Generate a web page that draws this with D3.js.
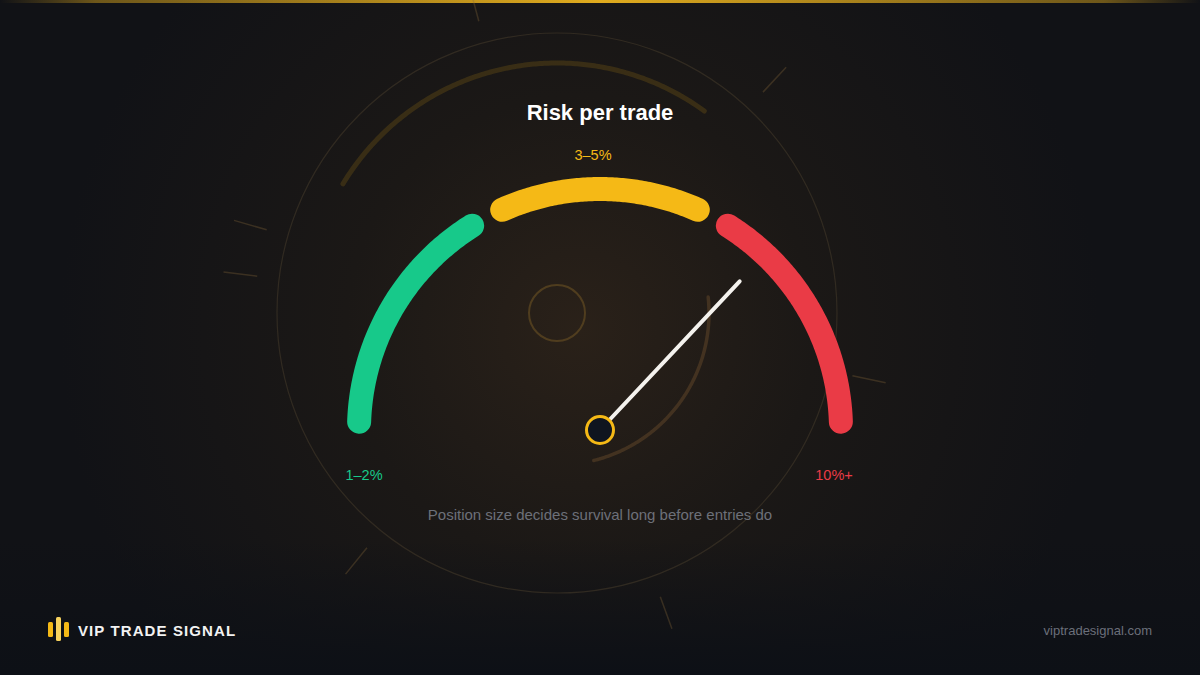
<!DOCTYPE html>
<html>
<head>
<meta charset="utf-8">
<script src="https://cdn.jsdelivr.net/npm/d3@7"></script>
<style>
  html, body { margin: 0; padding: 0; background: #111216; }
  svg { display: block; }
</style>
</head>
<body>
<svg id="chart" width="1200" height="675"></svg>
<script>
// ---- data ----
const title = "Risk per trade";
const subtitle = "Position size decides survival long before entries do";
const bandLabels = ["1–2%", "3–5%", "10%+"];
const bandStart = [1.1, 36.7, 67.8];   // gauge units 0..100
const bandEnd = [32.2, 63.3, 98.9];
const bandColors = ["#17c98a", "#f5b916", "#ea3b46"];
const needleValue = 74;                // gauge units 0..100
const brand = "VIP TRADE SIGNAL";
const site = "viptradesignal.com";
// decorative radial ticks (degrees clockwise from top)
const decoTickAngles = [-15, 43, 102, 160, 219, -74, -83];

const W = 1200, H = 675;
const svg = d3.select("#chart");
const defs = svg.append("defs");
const FONT = "'Liberation Sans', Arial, Helvetica, sans-serif";

// background
const bg = defs.append("radialGradient").attr("id", "bgGlow")
  .attr("gradientUnits", "userSpaceOnUse").attr("cx", 580).attr("cy", 330).attr("r", 520);
bg.append("stop").attr("offset", 0).attr("stop-color", "#2a2119");
bg.append("stop").attr("offset", 0.45).attr("stop-color", "#1b1816");
bg.append("stop").attr("offset", 1).attr("stop-color", "#111216");
svg.append("rect").attr("width", W).attr("height", H).attr("fill", "#111216");
svg.append("rect").attr("width", W).attr("height", H).attr("fill", "url(#bgGlow)");
const bot = defs.append("linearGradient").attr("id", "botFade").attr("x1", 0).attr("y1", 0).attr("x2", 0).attr("y2", 1);
bot.append("stop").attr("offset", 0).attr("stop-color", "#0d1016").attr("stop-opacity", 0);
bot.append("stop").attr("offset", 1).attr("stop-color", "#0d1016").attr("stop-opacity", 1);
svg.append("rect").attr("x", 0).attr("y", 540).attr("width", W).attr("height", 135).attr("fill", "url(#botFade)");

// top gold line
const topG = defs.append("linearGradient").attr("id", "topLine").attr("x1", 0).attr("x2", 1).attr("y1", 0).attr("y2", 0);
[[0, 0], [0.08, 0.45], [0.5, 1], [0.92, 0.45], [1, 0]].forEach(([o, a]) =>
  topG.append("stop").attr("offset", o).attr("stop-color", "#e0ab1e").attr("stop-opacity", a));
svg.append("rect").attr("x", 0).attr("y", 0).attr("width", W).attr("height", 3).attr("fill", "url(#topLine)");

// decorative ring
const deco = svg.append("g").attr("transform", "translate(557,313)");
deco.append("circle").attr("r", 280).attr("fill", "none")
  .attr("stroke", "#3a3126").attr("stroke-width", 1.2).attr("stroke-opacity", 0.75);
deco.append("circle").attr("r", 28).attr("fill", "none")
  .attr("stroke", "#5a4520").attr("stroke-width", 2).attr("stroke-opacity", 0.8);
deco.append("path")
  .attr("d", d3.line()(d3.range(-58.9, 36.4, 0.5).map(a => {
    const r = 250, t = a * Math.PI / 180; return [r * Math.sin(t), -r * Math.cos(t)];
  })))
  .attr("fill", "none").attr("stroke", "#f5b916").attr("stroke-opacity", 0.14)
  .attr("stroke-width", 5).attr("stroke-linecap", "round");
deco.append("path")
  .attr("d", d3.line()(d3.range(84, 166.5, 0.5).map(a => {
    const r = 152, t = a * Math.PI / 180; return [r * Math.sin(t), -r * Math.cos(t)];
  })))
  .attr("fill", "none").attr("stroke", "#9a6a3a").attr("stroke-opacity", 0.28)
  .attr("stroke-width", 3.5).attr("stroke-linecap", "round");
deco.selectAll("line.tick").data(decoTickAngles).join("line")
  .attr("class", "tick")
  .attr("x1", d => 302 * Math.sin(d * Math.PI / 180))
  .attr("y1", d => -302 * Math.cos(d * Math.PI / 180))
  .attr("x2", d => 336 * Math.sin(d * Math.PI / 180))
  .attr("y2", d => -336 * Math.cos(d * Math.PI / 180))
  .attr("stroke", "#8a6a3a").attr("stroke-opacity", 0.32).attr("stroke-width", 1.5);

// gauge
const cx = 600, cy = 430, R = 241, SW = 24;
const angle = d3.scaleLinear().domain([0, 100]).range([-90, 90]);
const g = svg.append("g").attr("transform", `translate(${cx},${cy})`);
const arcPts = (a0, a1) => d3.range(0, 101).map(i => {
  const a = (a0 + (a1 - a0) * i / 100) * Math.PI / 180;
  return [R * Math.sin(a), -R * Math.cos(a)];
});
g.selectAll("path.band").data(bandLabels).join("path")
  .attr("class", "band")
  .attr("d", (d, i) => d3.line()(arcPts(angle(bandStart[i]), angle(bandEnd[i]))))
  .attr("fill", "none")
  .attr("stroke", (d, i) => bandColors[i])
  .attr("stroke-width", SW).attr("stroke-linecap", "round");

// band labels
const labelPos = [
  { x: -236, y: 50 },
  { x: -7, y: -270 },
  { x: 234, y: 50 }
];
g.selectAll("text.blabel").data(bandLabels).join("text")
  .attr("class", "blabel")
  .attr("x", (d, i) => labelPos[i].x)
  .attr("y", (d, i) => labelPos[i].y)
  .attr("text-anchor", "middle").attr("font-family", FONT)
  .attr("font-size", 14.5).attr("fill", (d, i) => bandColors[i])
  .text(d => d);

// needle
const na = angle(needleValue) * Math.PI / 180;
g.append("line")
  .attr("x1", 0).attr("y1", 0)
  .attr("x2", 204 * Math.sin(na)).attr("y2", -204 * Math.cos(na))
  .attr("stroke", "#f4f2ee").attr("stroke-width", 4).attr("stroke-linecap", "round");
g.append("circle").attr("r", 13.5).attr("fill", "#0f151f")
  .attr("stroke", "#f5b916").attr("stroke-width", 3);

// title & subtitle
svg.append("text").attr("x", 600).attr("y", 120).attr("text-anchor", "middle")
  .attr("font-family", FONT).attr("font-weight", 700).attr("font-size", 22)
  .attr("fill", "#ffffff").text(title);
svg.append("text").attr("x", 600).attr("y", 520).attr("text-anchor", "middle")
  .attr("font-family", FONT).attr("font-size", 15)
  .attr("fill", "#6d7079").text(subtitle);

// footer brand
const logo = svg.append("g");
const bars = [{ x: 48, y: 622, h: 15, c: "#f5b916" }, { x: 56, y: 617, h: 24, c: "#f7d25e" }, { x: 64, y: 622, h: 15, c: "#f5b916" }];
logo.selectAll("rect").data(bars).join("rect")
  .attr("x", d => d.x).attr("y", d => d.y).attr("width", 5).attr("height", d => d.h)
  .attr("rx", 1.5).attr("fill", d => d.c);
svg.append("text").attr("x", 78).attr("y", 635.5)
  .attr("font-family", FONT).attr("font-weight", 700).attr("font-size", 15)
  .attr("letter-spacing", 1.1).attr("fill", "#f2f2f2").text(brand);
svg.append("text").attr("x", 1152).attr("y", 635).attr("text-anchor", "end")
  .attr("font-family", FONT).attr("font-size", 13)
  .attr("fill", "#6b6f7a").text(site);
</script>
</body>
</html>
